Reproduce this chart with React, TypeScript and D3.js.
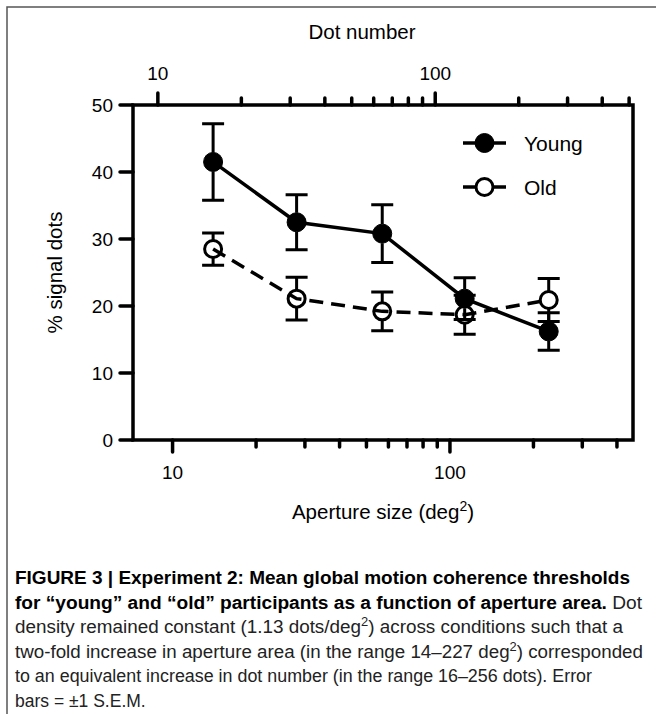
import React, { useEffect, useRef } from "react";
import * as d3 from "d3";

// aperture area (deg^2) for each condition
const aperture = [14, 28, 57, 113, 227];
// mean % signal dots and S.E.M.
const young = [41.5, 32.5, 30.8, 21.1, 16.2];
const youngSem = [5.7, 4.1, 4.3, 3.1, 2.8];
const old = [28.5, 21.1, 19.2, 18.7, 20.9];
const oldSem = [2.4, 3.2, 2.9, 2.9, 3.2];

const yTicks = [0, 10, 20, 30, 40, 50];
const bottomMajor = [10, 100];
const bottomMinor = [20, 30, 40, 50, 60, 70, 80, 90, 200, 300, 400];
const topMajor = [10, 100];
const topMinor = [20, 30, 40, 50, 60, 70, 80, 90, 200, 300, 400, 500];
const dotDensity = 1.13;

function App() {
    const chartRef = useRef(null);
    useEffect(() => {
        document.body.style.margin = "0";

        let svg = d3
            .select(chartRef.current)
            .append("svg")
            .attr("width", 656)
            .attr("height", 714)
            .style("display", "block")
            .style("font-family", "'Liberation Sans', Arial, sans-serif");

        // outer frame (left + top only)
        svg.append("path")
            .attr("d", "M7,714 L7,7 L656,7")
            .attr("fill", "none")
            .attr("stroke", "#555")
            .attr("stroke-width", 1.5);

        const left = 133, right = 633, top = 105, bottom = 440;

        let x = d3.scaleLog().domain([7.2, 457]).range([left, right]);
        let xTop = d3
            .scaleLog()
            .domain([7.2 * dotDensity, 457 * dotDensity])
            .range([left, right]);
        let y = d3.scaleLinear().domain([0, 50]).range([bottom, top]);

        let axes = svg.append("g").attr("stroke", "#000").attr("stroke-width", 3.5).attr("stroke-linecap", "round");

        // plot frame
        axes.append("path")
            .attr("d", `M${left},${bottom} L${left},${top} L${right},${top} L${right},${bottom} Z`)
            .attr("fill", "none")
            .attr("stroke-linecap", "butt")
            .attr("stroke-linejoin", "miter");

        // y ticks
        yTicks.forEach((t) => {
            axes.append("line")
                .attr("x1", left - 13).attr("x2", left)
                .attr("y1", y(t)).attr("y2", y(t));
            svg.append("text")
                .attr("x", left - 20)
                .attr("y", y(t) + 7)
                .attr("text-anchor", "end")
                .attr("font-size", 19)
                .text(t);
        });

        // bottom axis ticks
        bottomMajor.forEach((t) => {
            axes.append("line").attr("x1", x(t)).attr("x2", x(t)).attr("y1", bottom).attr("y2", bottom + 12);
            svg.append("text")
                .attr("x", x(t)).attr("y", bottom + 39)
                .attr("text-anchor", "middle").attr("font-size", 19).text(t);
        });
        bottomMinor.forEach((t) => {
            axes.append("line").attr("x1", x(t)).attr("x2", x(t)).attr("y1", bottom).attr("y2", bottom + 7);
        });

        // top axis ticks (dot number)
        topMajor.forEach((t) => {
            axes.append("line").attr("x1", xTop(t)).attr("x2", xTop(t)).attr("y1", top).attr("y2", top - 12);
            svg.append("text")
                .attr("x", xTop(t)).attr("y", top - 25)
                .attr("text-anchor", "middle").attr("font-size", 19).text(t);
        });
        topMinor.forEach((t) => {
            axes.append("line").attr("x1", xTop(t)).attr("x2", xTop(t)).attr("y1", top).attr("y2", top - 7);
        });

        // axis titles
        const midX = (left + right) / 2;
        svg.append("text")
            .attr("x", 362).attr("y", 39)
            .attr("text-anchor", "middle").attr("font-size", 20.5)
            .text("Dot number");

        let xt = svg.append("text")
            .attr("x", midX).attr("y", 519)
            .attr("text-anchor", "middle").attr("font-size", 20.5);
        xt.append("tspan").text("Aperture size (deg");
        xt.append("tspan").attr("dy", -8).attr("font-size", 14).text("2");
        xt.append("tspan").attr("dy", 8).text(")");

        svg.append("text")
            .attr("transform", `translate(62,${(top + bottom) / 2}) rotate(-90)`)
            .attr("text-anchor", "middle").attr("font-size", 20.5)
            .text("% signal dots");

        // series
        const series = [
            { name: "Young", values: young, sem: youngSem, filled: true, r: 9.5 },
            { name: "Old", values: old, sem: oldSem, filled: false, r: 8.5 },
        ];

        let line = d3.line().x((d) => x(d[0])).y((d) => y(d[1]));

        series.slice().reverse().forEach((s) => {
            let g = svg.append("g");
            g.append("path")
                .attr("d", line(aperture.map((a, i) => [a, s.values[i]])))
                .attr("fill", "none")
                .attr("stroke", "#000")
                .attr("stroke-width", 3.5)
                .attr("stroke-dasharray", s.filled ? null : "14,8");

            aperture.forEach((a, i) => {
                const cx = x(a);
                const hi = y(s.values[i] + s.sem[i]);
                const lo = y(s.values[i] - s.sem[i]);
                const cy = y(s.values[i]);
                g.append("path")
                    .attr("d", `M${cx},${cy - s.r} L${cx},${hi} M${cx - 11},${hi} L${cx + 11},${hi}` +
                        ` M${cx},${cy + s.r} L${cx},${lo} M${cx - 11},${lo} L${cx + 11},${lo}`)
                    .attr("fill", "none")
                    .attr("stroke", "#000")
                    .attr("stroke-width", 3);
                g.append("circle")
                    .attr("cx", cx).attr("cy", cy).attr("r", s.r)
                    .attr("fill", s.filled ? "#000" : "none")
                    .attr("stroke", "#000")
                    .attr("stroke-width", s.filled ? 1 : 3);
            });
        });

        // legend
        series.forEach((s, i) => {
            const ly = 143 + i * 44;
            const lg = svg.append("g");
            lg.append("line").attr("x1", 463).attr("x2", 506).attr("y1", ly).attr("y2", ly)
                .attr("stroke", "#000").attr("stroke-width", 3.5);
            lg.append("circle").attr("cx", 484.5).attr("cy", ly).attr("r", s.r)
                .attr("fill", s.filled ? "#000" : "#fff")
                .attr("stroke", "#000").attr("stroke-width", s.filled ? 1 : 3);
            lg.append("text").attr("x", 524).attr("y", ly + 7.5)
                .attr("font-size", 21).text(s.name);
        });

        // caption
        let cap = svg.append("g")
            .attr("font-size", 17.5)
            .attr("fill", "#222");
        const capX = 15;
        const capY = [584, 608.5, 633, 657.5, 682, 706.5];

        let l1 = cap.append("text").attr("x", capX).attr("y", capY[0])
            .attr("textLength", 615).attr("lengthAdjust", "spacingAndGlyphs");
        l1.append("tspan").attr("font-weight", "bold").attr("fill", "#000")
            .text("FIGURE 3 | Experiment 2: Mean global motion coherence thresholds");

        let l2 = cap.append("text").attr("x", capX).attr("y", capY[1])
            .attr("textLength", 627).attr("lengthAdjust", "spacingAndGlyphs");
        l2.append("tspan").attr("font-weight", "bold").attr("fill", "#000")
            .text("for \u201cyoung\u201d and \u201cold\u201d participants as a function of aperture area.");
        l2.append("tspan").text(" Dot");

        let l3 = cap.append("text").attr("x", capX).attr("y", capY[2])
            .attr("textLength", 608).attr("lengthAdjust", "spacingAndGlyphs");
        l3.append("tspan").text("density remained constant (1.13 dots/deg");
        l3.append("tspan").attr("dy", -7).attr("font-size", 12).text("2");
        l3.append("tspan").attr("dy", 7).text(") across conditions such that a");

        let l4 = cap.append("text").attr("x", capX).attr("y", capY[3])
            .attr("textLength", 628).attr("lengthAdjust", "spacingAndGlyphs");
        l4.append("tspan").text("two-fold increase in aperture area (in the range 14\u2013227 deg");
        l4.append("tspan").attr("dy", -7).attr("font-size", 12).text("2");
        l4.append("tspan").attr("dy", 7).text(") corresponded");

        cap.append("text").attr("x", capX).attr("y", capY[4])
            .attr("textLength", 577).attr("lengthAdjust", "spacingAndGlyphs")
            .text("to an equivalent increase in dot number (in the range 16\u2013256 dots). Error");

        cap.append("text").attr("x", capX).attr("y", capY[5])
            .text("bars = \u00b11 S.E.M.");

        return () => svg.remove();
    }, []);
    return <div ref={chartRef}></div>;
}

export default App;
